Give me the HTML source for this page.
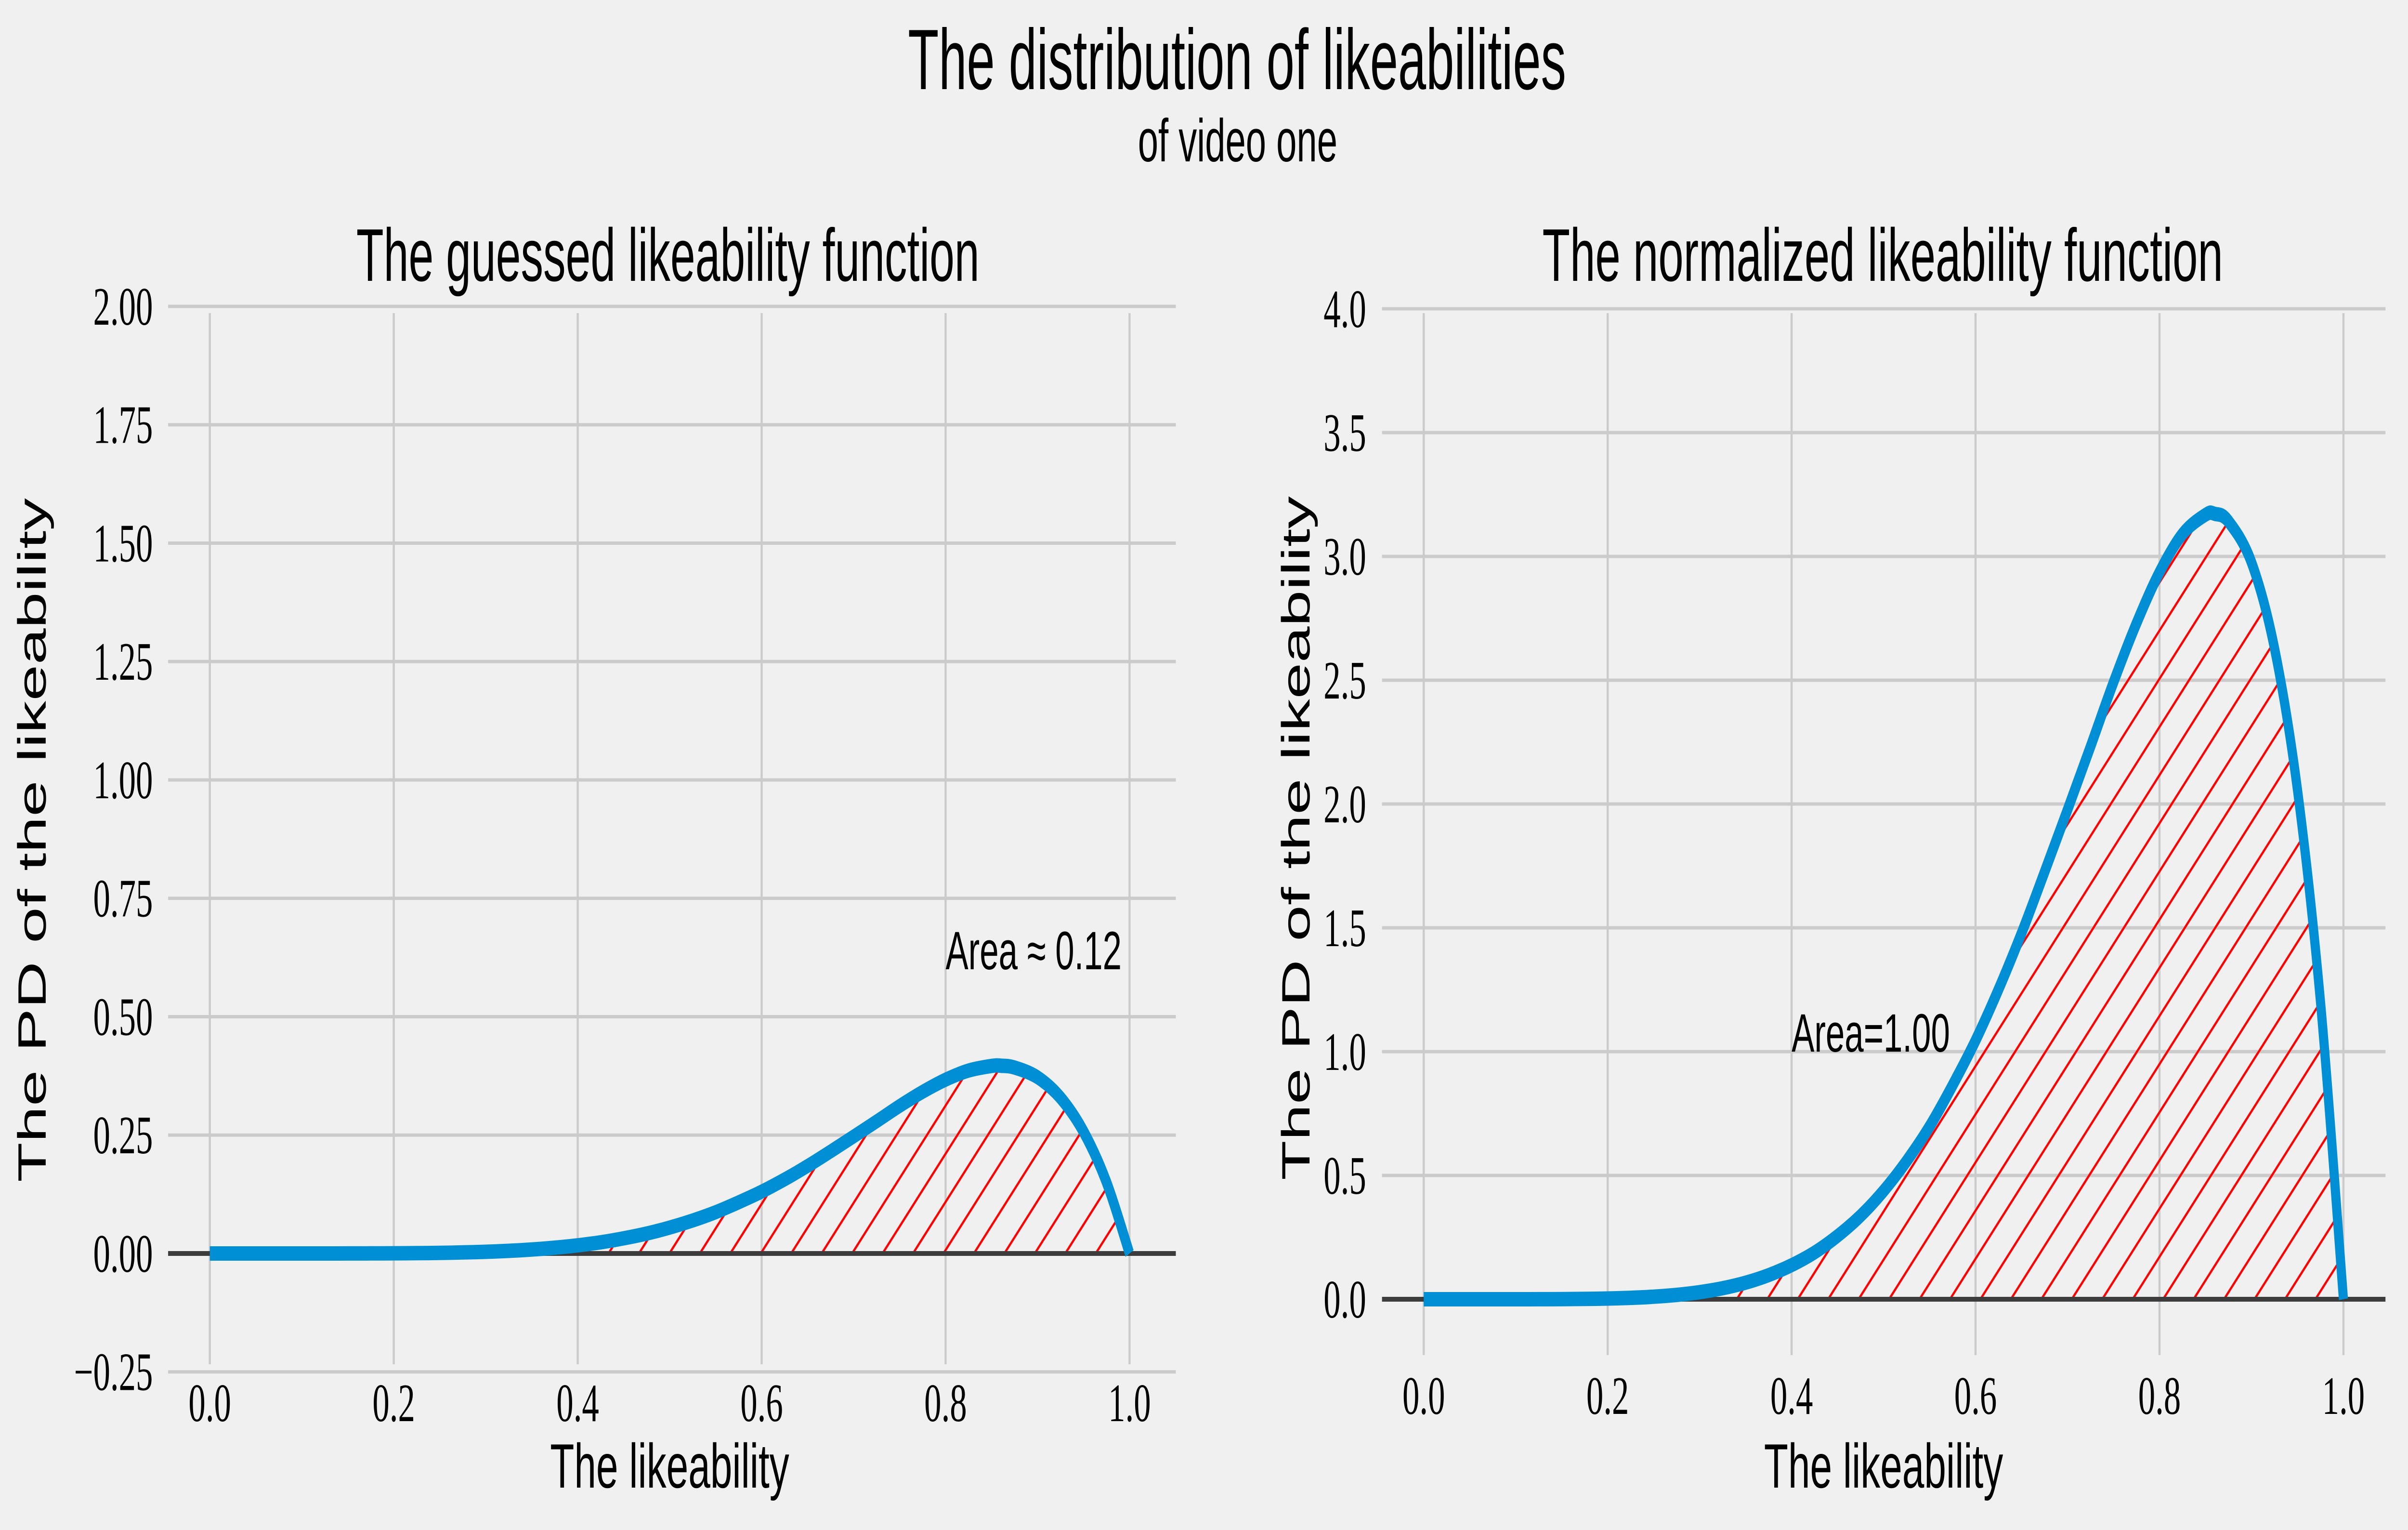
<!DOCTYPE html>
<html><head><meta charset="utf-8"><style>
html,body{margin:0;padding:0;background:#f0f0f0;width:100%;height:100%;overflow:hidden}
svg{display:block;width:100vw;height:100vh}
.sans{font-family:"Liberation Sans",sans-serif;fill:#000}
.tick{font-family:"Liberation Serif",serif;font-size:112px;fill:#000}
</style></head><body>
<svg id="fig" viewBox="0 0 7907 3176" preserveAspectRatio="none" xmlns="http://www.w3.org/2000/svg">
<defs>
<pattern id="hatch" patternUnits="userSpaceOnUse" width="100" height="100">
<path d="M-25,25 L25,-25 M0,100 L100,0 M75,125 L125,75" stroke="#ff0000" stroke-width="6"/>
</pattern>
</defs>
<rect width="7907" height="3176" fill="#f0f0f0"/>
<text class="sans" x="4062" y="185" font-size="178" text-anchor="middle" textLength="2161" lengthAdjust="spacingAndGlyphs">The distribution of likeabilities</text>
<text class="sans" x="4064" y="335" font-size="125" text-anchor="middle" textLength="655" lengthAdjust="spacingAndGlyphs">of video one</text>
<g id="left"></g>
<g id="right"></g>
</svg>
<script>
const xs = [0,0.025,0.05,0.075,0.1,0.125,0.15,0.175,0.2,0.225,0.25,0.275,0.3,0.325,0.35,0.375,0.4,0.425,0.45,0.475,0.5,0.525,0.55,0.575,0.6,0.625,0.65,0.675,0.7,0.725,0.75,0.775,0.8,0.825,0.85,0.86,0.875,0.9,0.925,0.95,0.975,1.0];
const normVals = [0,0,0,0.00001,0.00005,0.00019,0.00054,0.00133,0.00287,0.00563,0.01025,0.01758,0.02858,0.0445,0.0669,0.0974,0.1376,0.189,0.2558,0.3369,0.4375,0.5578,0.6976,0.864,1.0451,1.2516,1.4782,1.725,1.9765,2.232,2.4917,2.730,2.936,3.090,3.168,3.172,3.1416,2.976,2.630,2.058,1.2027,0];
const guessVals = [0,0,0,0,0.00001,0.00002,0.00007,0.00017,0.00036,0.0007,0.00128,0.0022,0.00357,0.00556,0.00836,0.01218,0.0172,0.0236,0.032,0.0421,0.0547,0.0697,0.0872,0.108,0.1306,0.1565,0.1848,0.2156,0.2471,0.279,0.3115,0.3413,0.367,0.3863,0.396,0.3965,0.3927,0.372,0.3288,0.2573,0.1503,0];
const xTicks = [0,0.2,0.4,0.6,0.8,1.0];
const xTickLabels = ["0.0","0.2","0.4","0.6","0.8","1.0"];
const leftYTicks = [-0.25,0,0.25,0.5,0.75,1.0,1.25,1.5,1.75,2.0];
const leftYTickLabels = ["\u22120.25","0.00","0.25","0.50","0.75","1.00","1.25","1.50","1.75","2.00"];
const rightYTicks = [0,0.5,1.0,1.5,2.0,2.5,3.0,3.5,4.0];
const rightYTickLabels = ["0.0","0.5","1.0","1.5","2.0","2.5","3.0","3.5","4.0"];
const leftTitle = "The guessed likeability function";
const rightTitle = "The normalized likeability function";
const NS = "http://www.w3.org/2000/svg";
function mk(parent, tag, attrs, text){
  const e = document.createElementNS(NS, tag);
  for (const k in attrs) e.setAttribute(k, attrs[k]);
  if (text !== undefined) e.textContent = text;
  parent.appendChild(e); return e;
}
function smoothPath(P){
  let d = 'M' + P[0][0].toFixed(1) + ',' + P[0][1].toFixed(1);
  for (let i = 0; i < P.length - 1; i++) {
    const p0 = P[Math.max(i-1,0)], p1 = P[i], p2 = P[i+1], p3 = P[Math.min(i+2,P.length-1)];
    const c1 = [p1[0] + (p2[0]-p0[0])/6, p1[1] + (p2[1]-p0[1])/6];
    const c2 = [p2[0] - (p3[0]-p1[0])/6, p2[1] - (p3[1]-p1[1])/6];
    d += ' C' + c1[0].toFixed(1)+','+c1[1].toFixed(1)+' '+c2[0].toFixed(1)+','+c2[1].toFixed(1)+' '+p2[0].toFixed(1)+','+p2[1].toFixed(1);
  }
  return d;
}
function drawChart(g, cfg){
  const sx = v => cfg.x0 + v*(cfg.x1-cfg.x0);
  const sy = v => cfg.yz + (cfg.yRef - cfg.yz) * v / cfg.yRefVal;
  cfg.yTicks.forEach((t,i)=>{
    if (t !== 0) {
      const l = mk(g,'line',{x1:cfg.left,x2:cfg.right,y1:sy(t),y2:sy(t),stroke:'#cbcbcb','stroke-width':7});
      
      
    }
    const tx = mk(g,'text',{class:'tick',x:cfg.yLabX,y:sy(t)+38,'text-anchor':'end'},cfg.yLabels[i]);
    
    
  });
  xTicks.forEach((t,i)=>{
    const l = mk(g,'line',{x1:sx(t),x2:sx(t),y1:cfg.top,y2:cfg.bottom,stroke:'#cbcbcb','stroke-width':7});
    
    
    const tx = mk(g,'text',{class:'tick',x:sx(t),y:cfg.xLabY,'text-anchor':'middle'},xTickLabels[i]);
    
    
  });
  const P = xs.map((x,i)=>[sx(x), sy(cfg.vals[i])]);
  const curveD = smoothPath(P);
  const area = mk(g,'path',{d: curveD + ' L' + sx(0) + ',' + sy(0) + ' Z', fill:'url(#hatch)', stroke:'#aa0000','stroke-width':4});
  
  
  const zl = mk(g,'line',{x1:cfg.left,x2:cfg.right,y1:sy(0),y2:sy(0),stroke:'#3c3c3c','stroke-width':10});
  
  
  const line = mk(g,'path',{d:curveD,fill:'none',stroke:'#008fd5','stroke-width':30,'stroke-linejoin':'round'});
  
  
  const t = mk(g,'text',{class:'sans',x:cfg.titleX,y:583,'font-size':155,'text-anchor':'middle',textLength:cfg.titleW,lengthAdjust:'spacingAndGlyphs'},cfg.title);
  
  
  const xl = mk(g,'text',{class:'sans',x:sx(0.5),y:3088,'font-size':130,'text-anchor':'middle',textLength:785,lengthAdjust:'spacingAndGlyphs'},'The likeability');
  
  
  const yl = mk(g,'text',{class:'sans',x:0,y:0,'font-size':130,'text-anchor':'middle',textLength:1420,lengthAdjust:'spacingAndGlyphs',transform:'translate('+(cfg.yTitleX)+','+cfg.yTitleY+') rotate(-90)'},'The PD of the likeability');
  
  
  const an = mk(g,'text',{class:'sans',x:sx(cfg.annX),y:sy(cfg.annY),'font-size':112},cfg.annText);
  
  
}
drawChart(document.getElementById('left'),{
  x0:689,x1:3709,left:552,right:3861,top:650,bottom:2832,yz:2602,yRef:636,yRefVal:2.0,
  yTicks:leftYTicks,yLabels:leftYTickLabels,yLabX:502,xLabY:2950,vals:guessVals,
  title:leftTitle,titleX:2193,titleW:2046,yTitleX:150,yTitleY:1744,annX:0.8,annY:0.6,annText:'Area \u2248 0.12'});
drawChart(document.getElementById('right'),{
  x0:4675,x1:7695,left:4538,right:7833,top:650,bottom:2813,yz:2697,yRef:641,yRefVal:4.0,
  yTicks:rightYTicks,yLabels:rightYTickLabels,yLabX:4486,xLabY:2935,vals:normVals,
  title:rightTitle,titleX:6182,titleW:2235,yTitleX:4300,yTitleY:1740,annX:0.4,annY:1.0,annText:'Area=1.00'});
</script>
</body></html>
